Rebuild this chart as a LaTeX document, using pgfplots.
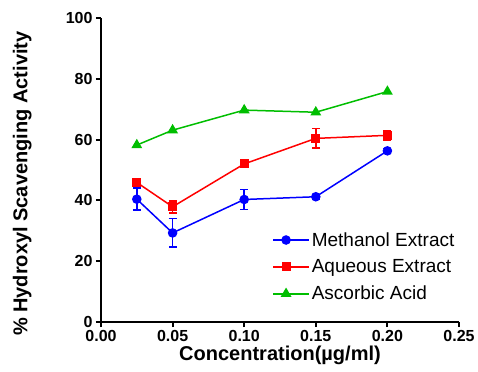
\documentclass[border=0pt]{standalone}
\usepackage{pgfplots}
\pgfplotsset{compat=1.18}
\usepackage{fontspec}
\setmainfont{Liberation Sans}
\definecolor{mblue}{RGB}{0,0,255}
\definecolor{mred}{RGB}{255,0,0}
\definecolor{mgreen}{RGB}{0,190,0}
\begin{document}
\begin{tikzpicture}
\path[use as bounding box] (-101bp,-50bp) rectangle (377bp,322bp);
\begin{axis}[
  at={(0,0)}, anchor=south west,
  scale only axis,
  width=358bp, height=304bp,
  xmin=0, xmax=0.25, ymin=0, ymax=100,
  axis lines=left,
  axis line style={-, line width=2.2bp},
  xtick={0,0.05,0.10,0.15,0.20,0.25},
  ytick={0,20,40,60,80,100},
  tick align=outside,
  major tick length=5bp,
  tick style={line width=2bp, black},
  /pgf/number format/assume math mode=true,
  xticklabel style={/pgf/number format/.cd, fixed, fixed zerofill, precision=2},
  yticklabel style={/pgf/number format/.cd, fixed, precision=0},
  tick label style={font=\fontsize{16bp}{18bp}\selectfont\bfseries},
  xlabel={Concentration(µg/ml)},
  ylabel={\% Hydroxyl Scavenging Activity},
  label style={font=\fontsize{20bp}{22bp}\selectfont\bfseries},
  xlabel style={at={(axis description cs:0.5,-0.11)}, anchor=center},
  ylabel style={at={(axis description cs:-0.22,0.455)}, anchor=center},
  legend style={at={(0.478,0.302)}, anchor=north west, draw=none, fill=none,
    font=\fontsize{19bp}{21bp}\selectfont, row sep=8bp,
    inner sep=0pt},
  legend cell align=left,
  legend image code/.code={\draw[#1, mark repeat=2, mark phase=2] plot coordinates {(0bp,0bp) (13bp,0bp) (26bp,0bp)}; \path (26bp,0bp) -- (36bp,0bp);},
  every axis plot/.append style={line width=1.5bp},
  error bars/error bar style={line width=1.6bp},
  error bars/error mark options={rotate=90, mark size=4bp, line width=1.6bp},
]
\addplot[color=mblue, mark=*, mark size=4bp, mark options={solid},
  error bars/.cd, y dir=both, y explicit] coordinates {
  (0.025,40.4) +- (0,3.6)
  (0.05,29.3) +- (0,4.7)
  (0.10,40.3) +- (0,3.3)
  (0.15,41.2) +- (0,0.8)
  (0.20,56.3) +- (0,0.8)
};
\addlegendentry{Methanol Extract}
\addplot[color=mred, mark=square*, mark size=3.8bp, mark options={solid},
  error bars/.cd, y dir=both, y explicit] coordinates {
  (0.025,45.9) +- (0,1.3)
  (0.05,37.9) +- (0,2.0)
  (0.10,52.0) +- (0,0.8)
  (0.15,60.4) +- (0,3.2)
  (0.20,61.4) +- (0,1.5)
};
\addlegendentry{Aqueous Extract}
\addplot[color=mgreen, mark=triangle*, mark size=4.8bp, mark options={solid}] coordinates {
  (0.025,58.2)
  (0.05,63.1)
  (0.10,69.7)
  (0.15,69.0)
  (0.20,75.8)
};
\addlegendentry{Ascorbic Acid}
\end{axis}
\end{tikzpicture}
\end{document}
